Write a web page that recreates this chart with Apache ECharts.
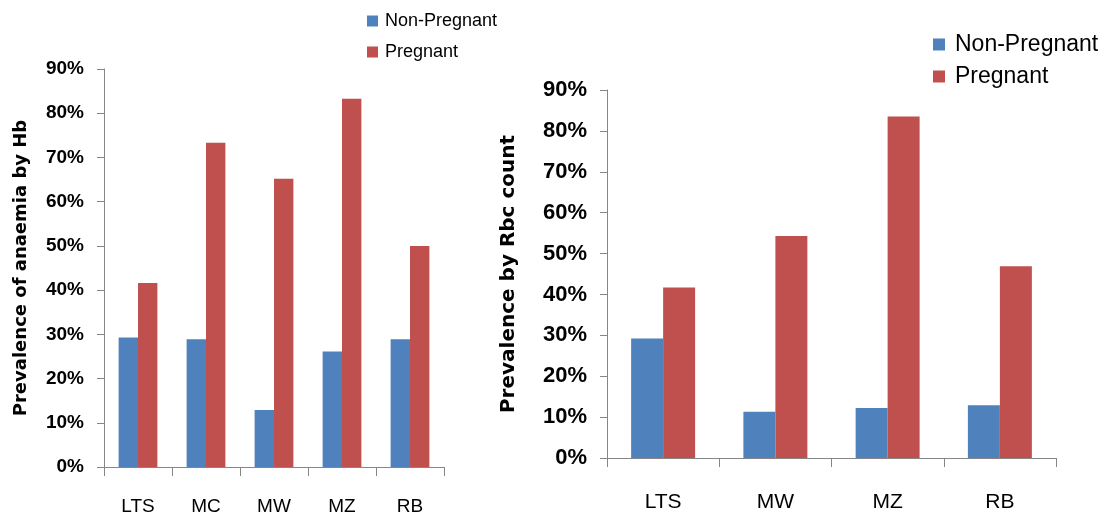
<!doctype html>
<html>
<head>
	<meta charset="utf-8">
	<title>Prevalence of anaemia</title>
	<style>
		html, body { margin: 0; padding: 0; background: #fff; }
		#main { width: 1113px; height: 523px; }
	</style>
</head>
<body>
<div id="main"></div>
<script src="https://cdn.jsdelivr.net/npm/echarts@6/dist/echarts.min.js"></script>
<script>
	// left chart: by Hb
	var hbSites = ['LTS', 'MC', 'MW', 'MZ', 'RB']
	var hbNonPregnant = [29.3, 28.9, 12.9, 26.1, 28.9]
	var hbPregnant = [41.6, 73.3, 65.2, 83.3, 50.0]
	// right chart: by Rbc count
	var rbcSites = ['LTS', 'MW', 'MZ', 'RB']
	var rbcNonPregnant = [29.2, 11.3, 12.2, 12.9]
	var rbcPregnant = [41.7, 54.3, 83.5, 46.9]
	var seriesNames = ['Non-Pregnant', 'Pregnant']

	var blue = '#4F81BD'
	var red = '#C0504D'
	var axisGrey = '#868686'
	var font = "'Liberation Sans', sans-serif"

	var myChart = echarts.init(document.getElementById('main'))

	function xAxisFor(idx, data, size, margin) {
		return {
			type: 'category', gridIndex: idx, data: data,
			axisLine: { lineStyle: { color: axisGrey, width: 1 } },
			axisTick: { show: true, length: 9, lineStyle: { color: axisGrey } },
			axisLabel: { color: '#000', fontSize: size, fontFamily: font, margin: margin }
		}
	}
	function yAxisFor(idx, name, size, nameSize, nameGap) {
		return {
			type: 'value', gridIndex: idx, min: 0, max: 90, interval: 10,
			name: name, nameLocation: 'middle', nameGap: nameGap,
			nameTextStyle: { color: '#000', fontSize: nameSize, fontWeight: 'bold', fontFamily: 'DejaVu Sans' },
			axisLine: { show: true, lineStyle: { color: axisGrey, width: 1 } },
			axisTick: { show: true, length: 7, lineStyle: { color: axisGrey } },
			splitLine: { show: false },
			axisLabel: { color: '#000', fontSize: size, fontWeight: 'bold', fontFamily: font, margin: 20, formatter: '{value}%' }
		}
	}
	function bar(name, data, color, idx) {
		return {
			name: name, type: 'bar', data: data,
			xAxisIndex: idx, yAxisIndex: idx,
			barGap: '0%', barCategoryGap: '43%',
			itemStyle: { color: color },
			emphasis: { disabled: true }
		}
	}

	var option = {
		animation: false,
		backgroundColor: '#fff',
		color: [blue, red],
		legend: [{
			data: seriesNames, orient: 'vertical', left: 367, top: 12, padding: 0,
			itemWidth: 11, itemHeight: 11, itemGap: 13, icon: 'rect',
			textStyle: { color: '#000', fontSize: 18, fontFamily: font, padding: [0, 0, 0, 2] }
		}, {
			data: seriesNames, orient: 'vertical', left: 933, top: 33, padding: 0,
			itemWidth: 12, itemHeight: 12, itemGap: 9, icon: 'rect',
			textStyle: { color: '#000', fontSize: 23, fontFamily: font, padding: [0, 0, 0, 5] }
		}],
		grid: [
			{ left: 104, top: 69, width: 340, height: 398, containLabel: false, outerBoundsMode: 'none' },
			{ left: 607, top: 90, width: 449, height: 368, containLabel: false, outerBoundsMode: 'none' }
		],
		xAxis: [
			xAxisFor(0, hbSites, 19, 30),
			xAxisFor(1, rbcSites, 21, 34)
		],
		yAxis: [
			yAxisFor(0, 'Prevalence of anaemia by Hb', 19, 18, 74),
			yAxisFor(1, 'Prevalence by Rbc count', 22, 20, 88)
		],
		series: [
			bar(seriesNames[0], hbNonPregnant, blue, 0),
			bar(seriesNames[1], hbPregnant, red, 0),
			bar(seriesNames[0], rbcNonPregnant, blue, 1),
			bar(seriesNames[1], rbcPregnant, red, 1)
		]
	}
	myChart.setOption(option)
</script>
</body>
</html>
